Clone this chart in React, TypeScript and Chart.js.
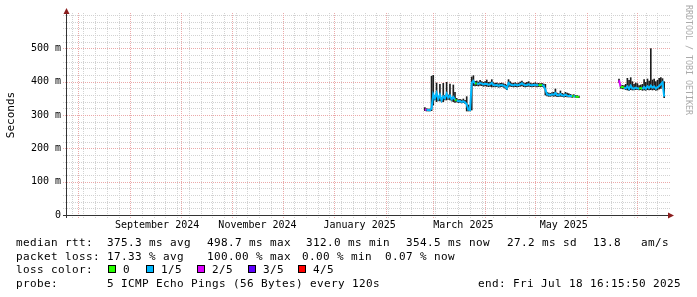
import { useEffect, useRef } from "react";
import { Chart, registerables } from "chart.js";

Chart.register(...registerables);

// ---------------- data ----------------
const endTime = "2025-07-18T16:15:50";
const spanDays = 358.5;

const sampleDates: string[] = [
  "2025-02-24", "2025-02-25", "2025-02-26", "2025-02-27", "2025-02-28",
  "2025-03-01", "2025-03-02", "2025-03-03", "2025-03-04", "2025-03-05",
  "2025-03-06", "2025-03-07", "2025-03-08", "2025-03-09", "2025-03-10",
  "2025-03-11", "2025-03-12", "2025-03-13", "2025-03-14", "2025-03-15",
  "2025-03-16", "2025-03-17", "2025-03-18", "2025-03-19", "2025-03-20",
  "2025-03-21", "2025-03-22", "2025-03-23", "2025-03-24", "2025-03-25",
  "2025-03-26", "2025-03-27", "2025-03-28", "2025-03-29", "2025-03-30",
  "2025-03-31", "2025-04-01", "2025-04-02", "2025-04-03", "2025-04-04",
  "2025-04-05", "2025-04-06", "2025-04-07", "2025-04-08", "2025-04-09",
  "2025-04-10", "2025-04-11", "2025-04-12", "2025-04-13", "2025-04-14",
  "2025-04-15", "2025-04-16", "2025-04-17", "2025-04-18", "2025-04-19",
  "2025-04-20", "2025-04-21", "2025-04-22", "2025-04-23", "2025-04-24",
  "2025-04-25", "2025-04-26", "2025-04-27", "2025-04-28", "2025-04-29",
  "2025-04-30", "2025-05-01", "2025-05-02", "2025-05-03", "2025-05-04",
  "2025-05-05", "2025-05-06", "2025-05-07", "2025-05-08", "2025-05-09",
  "2025-05-10", "2025-05-11", "2025-05-12", "2025-05-13", "2025-05-14",
  "2025-05-15", "2025-05-16", "2025-05-17", "2025-05-18", "2025-05-19",
  "2025-05-20", "2025-05-21", "2025-05-22", "2025-05-23", "2025-05-24",
  "2025-05-25", "2025-05-26", "2025-05-27",
  "2025-06-08",
  "2025-06-20", "2025-06-21", "2025-06-22", "2025-06-23", "2025-06-24",
  "2025-06-25", "2025-06-26", "2025-06-27", "2025-06-28", "2025-06-29",
  "2025-06-30", "2025-07-01", "2025-07-02", "2025-07-03", "2025-07-04",
  "2025-07-05", "2025-07-06", "2025-07-07", "2025-07-08", "2025-07-09",
  "2025-07-10", "2025-07-11", "2025-07-12", "2025-07-13", "2025-07-14",
  "2025-07-15", "2025-07-16", "2025-07-17",
];

// median round-trip time (ms)
const medianMs: (number | null)[] = [
  317, 315, 315, 314, 320,
  362, 350, 366, 348, 360,
  344, 356, 350, 364, 352,
  358, 347, 354, 346, 343,
  341, 342, 339, 341, 338,
  332, 316, 315, 396, 402,
  394, 395, 393, 396, 394,
  392, 394, 393, 391, 392,
  396, 390, 389, 390, 388,
  389, 390, 388, 386, 380,
  396, 392, 390, 389, 391,
  389, 390, 392, 395, 391,
  389, 390, 392, 390, 389,
  390, 391, 389, 390, 389,
  390, 388, 376, 362, 361,
  360, 362, 361, 366, 360,
  359, 363, 359, 358, 361,
  358, 357, 358, 356, 357,
  355, 355, 354,
  null,
  404, 385, 384, 382, 380,
  386, 378, 388, 380, 379,
  382, 380, 379, 381, 378,
  384, 379, 386, 381, 388,
  382, 386, 379, 383, 387,
  392, 398, 355,
];

// smoke range: fastest / slowest ping (ms)
const minMs: (number | null)[] = [
  313, 312, 312, 312, 313,
  330, 345, 340, 343, 342,
  339, 340, 345, 345, 347,
  345, 342, 340, 338, 339,
  337, 338, 336, 337, 335,
  312, 312, 312, 315, 388,
  387, 388, 387, 389, 388,
  386, 387, 386, 385, 386,
  384, 385, 384, 385, 383,
  384, 385, 383, 380, 376,
  384, 386, 385, 384, 385,
  384, 385, 386, 387, 385,
  384, 385, 386, 385, 384,
  385, 386, 384, 385, 385,
  385, 383, 360, 357, 356,
  356, 357, 356, 357, 355,
  355, 356, 355, 354, 355,
  354, 354, 354, 353, 354,
  353, 352, 352,
  null,
  398, 380, 379, 378, 376,
  375, 374, 376, 375, 375,
  376, 376, 375, 376, 374,
  375, 374, 376, 375, 376,
  375, 376, 374, 375, 378,
  380, 385, 352,
];

const maxMs: (number | null)[] = [
  322, 319, 318, 318, 416,
  419, 358, 396, 355, 392,
  352, 395, 358, 398, 360,
  393, 352, 390, 368, 350,
  346, 347, 345, 348, 344,
  355, 330, 320, 414, 418,
  401, 402, 399, 404, 400,
  398, 400, 405, 398, 399,
  406, 397, 395, 396, 394,
  395, 396, 394, 392, 390,
  406, 400, 396, 395, 397,
  394, 396, 399, 402, 397,
  395, 398, 400, 396, 394,
  395, 397, 394, 395, 394,
  395, 393, 392, 368, 366,
  365, 367, 368, 378, 366,
  364, 372, 365, 363, 368,
  366, 364, 362, 360, 361,
  359, 358, 357,
  null,
  408, 390, 389, 388, 392,
  410, 404, 412, 400, 392,
  396, 394, 388, 390, 392,
  406, 398, 408, 402, 499,
  405, 408, 400, 404, 410,
  412, 409, 400,
];

// packet loss, in fifths of the 5 pings
const lossFifths: number[] = [
  2, 1, 1, 1, 1,
  1, 1, 1, 1, 1,
  1, 1, 1, 1, 1,
  1, 1, 1, 0, 1,
  1, 1, 1, 1, 1,
  1, 1, 1, 1, 1,
  0, 1, 1, 1, 1,
  1, 1, 1, 1, 1,
  1, 1, 1, 1, 1,
  1, 1, 1, 1, 1,
  1, 1, 1, 1, 1,
  1, 1, 1, 1, 1,
  1, 1, 1, 1, 1,
  1, 1, 1, 0, 0,
  1, 1, 1, 1, 1,
  1, 1, 1, 1, 1,
  1, 1, 1, 1, 1,
  1, 1, 1, 0, 1,
  0, 0, 0,
  0,
  2, 0, 0, 1, 1,
  1, 1, 1, 1, 1,
  1, 1, 0, 0, 1,
  1, 1, 1, 1, 1,
  1, 1, 1, 1, 1,
  1, 1, 0,
];

const lossLabels = ["0", "1/5", "2/5", "3/5", "4/5"];
const lossColors = ["#26ff00", "#00b8ff", "#dd00ff", "#5e00ff", "#ff0000"];

const monthLabelDates = ["2024-09-17", "2024-11-16", "2025-01-16", "2025-03-19", "2025-05-18"];
const monthLabels = ["September 2024", "November 2024", "January 2025", "March 2025", "May 2025"];

const rttStats = ["375.3 ms avg", "498.7 ms max", "312.0 ms min", "354.5 ms now", "27.2 ms sd", "13.8", "am/s"];
const lossStats = ["17.33 % avg", "100.00 % max", "0.00 % min", "0.07 % now"];
const probeText = "5 ICMP Echo Pings (56 Bytes) every 120s";
const endText = "end: Fri Jul 18 16:15:50 2025";
const watermark = "RRDTOOL / TOBI OETIKER";

// ---------------- layout / style ----------------
const MONO = '"DejaVu Sans Mono", monospace';
const ADV = 7;
const rttX = [107, 207, 306, 406, 507, 593, 641];
const lossX = [107, 207, 302, 385];
const boxX = [108, 146, 197, 248, 298];
const baselines = [246, 260, 273, 287];
const MINOR = "#d2d2d2";
const MAJOR = "#eba9a9";
const AXIS = "#333333";
const ARROW = "#8b1e1e";

const toTime = (d: string) => Date.parse(d + "T00:00:00Z");
const xMax = Date.parse(endTime + "Z");
const xMin = xMax - spanDays * 86400000;

function drawMono(ctx: CanvasRenderingContext2D, text: string, x: number, y: number) {
  for (let i = 0; i < text.length; i++) ctx.fillText(text[i], x + i * ADV, y);
}

const rrdPlugin = {
  id: "rrdDecor",
  beforeDraw(chart: any) {
    const { ctx, width, height } = chart;
    ctx.save();
    ctx.fillStyle = "#ffffff";
    ctx.fillRect(0, 0, width, height);
    ctx.restore();
  },
  beforeDatasetsDraw(chart: any) {
    const { ctx, chartArea: a, scales } = chart;
    const xs = scales.x;
    const ys = scales.y;
    ctx.save();
    ctx.lineWidth = 1;
    ctx.setLineDash([1, 1]);
    const hLine = (v: number, color: string) => {
      const py = Math.round(ys.getPixelForValue(v)) + 0.5;
      ctx.strokeStyle = color;
      ctx.beginPath();
      ctx.moveTo(a.left - 4, py);
      ctx.lineTo(a.right + 3, py);
      ctx.stroke();
    };
    const vLine = (t: number, color: string) => {
      const px = Math.round(xs.getPixelForValue(t)) + 0.5;
      ctx.strokeStyle = color;
      ctx.beginPath();
      ctx.moveTo(px, a.bottom + 3);
      ctx.lineTo(px, a.top - 2);
      ctx.stroke();
    };
    for (let v = 20; v <= 600; v += 20) if (v % 100 !== 0 || v === 600) hLine(v, MINOR);
    let w = new Date(xMin);
    w = new Date(Date.UTC(w.getUTCFullYear(), w.getUTCMonth(), w.getUTCDate() + ((7 - w.getUTCDay()) % 7)));
    for (let t = w.getTime(); t <= xMax; t += 7 * 86400000) if (t >= xMin) vLine(t, MINOR);
    for (let v = 100; v < 600; v += 100) hLine(v, MAJOR);
    const s = new Date(xMin);
    for (let m = 1; m < 14; m++) {
      const t = Date.UTC(s.getUTCFullYear(), s.getUTCMonth() + m, 1);
      if (t > xMax) break;
      vLine(t, MAJOR);
    }
    ctx.restore();
  },
  afterDatasetsDraw(chart: any) {
    const { ctx, chartArea: a } = chart;
    ctx.save();
    ctx.lineWidth = 1;
    ctx.strokeStyle = AXIS;
    const ax = a.left - 0.5;
    const ay = a.bottom + 0.5;
    ctx.beginPath();
    ctx.moveTo(a.left - 4, ay);
    ctx.lineTo(a.right + 2, ay);
    ctx.moveTo(ax, a.bottom + 3);
    ctx.lineTo(ax, a.top - 2);
    ctx.stroke();
    ctx.fillStyle = ARROW;
    ctx.beginPath();
    ctx.moveTo(ax, a.top - 7);
    ctx.lineTo(ax - 3, a.top - 1);
    ctx.lineTo(ax + 3, a.top - 1);
    ctx.closePath();
    ctx.fill();
    ctx.beginPath();
    ctx.moveTo(a.right + 7, ay);
    ctx.lineTo(a.right + 1, ay - 3);
    ctx.lineTo(a.right + 1, ay + 3);
    ctx.closePath();
    ctx.fill();
    ctx.restore();
  },
  afterDraw(chart: any) {
    const { ctx } = chart;
    ctx.save();
    ctx.font = `11px ${MONO}`;
    ctx.fillStyle = "#000";
    ctx.textBaseline = "alphabetic";
    ctx.textAlign = "left";
    drawMono(ctx, "median rtt:", 16, baselines[0]);
    rttStats.forEach((s, i) => drawMono(ctx, s, rttX[i], baselines[0]));
    drawMono(ctx, "packet loss:", 16, baselines[1]);
    lossStats.forEach((s, i) => drawMono(ctx, s, lossX[i], baselines[1]));
    drawMono(ctx, "loss color:", 16, baselines[2]);
    lossLabels.forEach((lab, i) => {
      ctx.fillStyle = lossColors[i];
      ctx.fillRect(boxX[i], baselines[2] - 8, 8, 8);
      ctx.strokeStyle = "#000";
      ctx.lineWidth = 1;
      ctx.strokeRect(boxX[i] + 0.5, baselines[2] - 7.5, 7, 7);
      ctx.fillStyle = "#000";
      drawMono(ctx, lab, boxX[i] + 15, baselines[2]);
    });
    drawMono(ctx, "probe:", 16, baselines[3]);
    drawMono(ctx, probeText, 107, baselines[3]);
    drawMono(ctx, endText, 478, baselines[3]);
    ctx.font = `8.3px ${MONO}`;
    ctx.fillStyle = "#aaaaaa";
    ctx.translate(688, 5);
    ctx.rotate(Math.PI / 2);
    ctx.textBaseline = "middle";
    ctx.fillText(watermark, 0, 0);
    ctx.restore();
  },
};

export default function App() {
  const ref = useRef<HTMLCanvasElement | null>(null);
  useEffect(() => {
    if (!ref.current) return;
    Chart.defaults.font.family = MONO;
    const smoke = sampleDates
      .map((d, i) => ({ x: toTime(d), y: [minMs[i], maxMs[i]] }))
      .filter((p) => p.y[0] != null && p.y[1] != null);
    const median = sampleDates.map((d, i) => ({ x: toTime(d), y: medianMs[i] }));
    const chart = new Chart(ref.current, {
      type: "line",
      data: {
        datasets: [
          {
            type: "bar",
            label: "smoke",
            data: smoke as any,
            backgroundColor: "#1e1e1e",
            borderWidth: 0,
            barThickness: 1,
            grouped: false,
            order: 2,
          } as any,
          {
            type: "line",
            label: "median",
            data: median as any,
            borderColor: lossColors[1],
            borderWidth: 2,
            pointRadius: 0,
            spanGaps: false,
            tension: 0,
            order: 1,
            segment: {
              borderColor: (c: any) => lossColors[lossFifths[c.p0DataIndex]],
            },
          } as any,
        ],
      },
      options: {
        animation: false,
        responsive: false,
        devicePixelRatio: 1,
        events: [],
        layout: { padding: { left: 0, top: 15, right: 30, bottom: 0 }, autoPadding: false },
        plugins: { legend: { display: false }, tooltip: { enabled: false } },
        scales: {
          x: {
            type: "linear",
            min: xMin,
            max: xMax,
            offset: false,
            grid: { display: false, drawTicks: false },
            border: { display: false },
            afterFit: (s: any) => {
              s.height = 82;
            },
            afterBuildTicks: (s: any) => {
              s.ticks = monthLabelDates.map((d) => ({ value: toTime(d) }));
            },
            ticks: {
              autoSkip: false,
              maxRotation: 0,
              minRotation: 0,
              padding: 4,
              color: "#000",
              font: { family: MONO, size: 10 },
              callback: (_v: any, i: number) => monthLabels[i],
            },
          },
          y: {
            type: "linear",
            min: 0,
            max: 600,
            grid: { display: false, drawTicks: false },
            border: { display: false },
            afterFit: (s: any) => {
              s.width = 67;
            },
            ticks: {
              stepSize: 100,
              padding: 6,
              color: "#000",
              font: { family: MONO, size: 10 },
              callback: (v: any) => (v === 0 ? "0" : v >= 600 ? "" : `${v} m`),
            },
            title: {
              display: true,
              text: "Seconds",
              color: "#000",
              font: { family: MONO, size: 11 },
              padding: { top: 4.4, bottom: 0 },
            },
          },
        },
      } as any,
      plugins: [rrdPlugin as any],
    });
    return () => chart.destroy();
  }, []);
  return (
    <div style={{ position: "absolute", left: 0, top: 0, width: 697, height: 297 }}>
      <canvas ref={ref} width={697} height={297} style={{ display: "block" }} />
    </div>
  );
}
